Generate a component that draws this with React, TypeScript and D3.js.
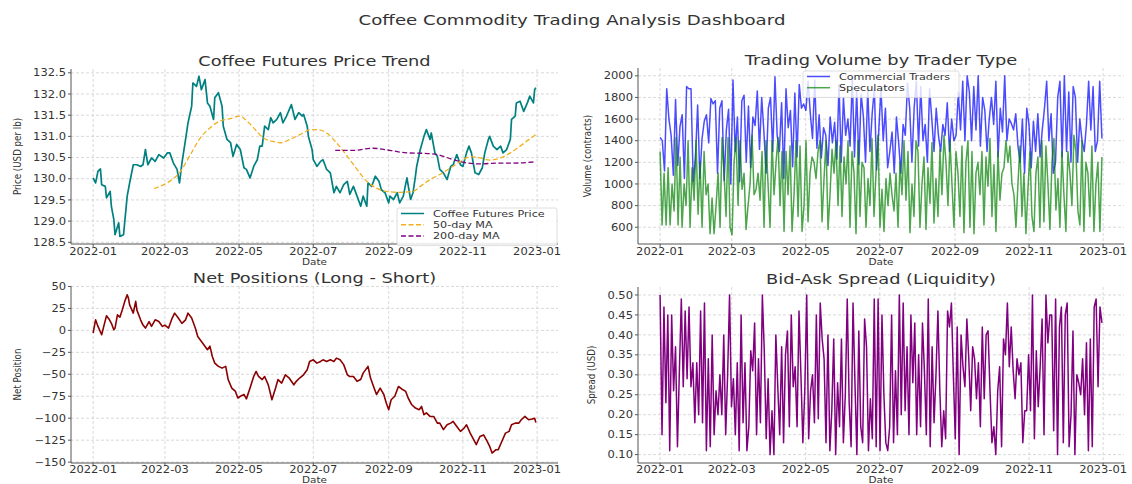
import React from "react";
import * as d3 from "d3";

const W = 1132;
const H = 484;

// day offsets from 2022-01-01 and values
const priceData: [number, number][] = [
  [0, 130.02], [2, 129.9], [4, 130.18], [6, 130.23], [7, 129.86], [10, 129.82], [11, 129.55], [14, 129.7], [15, 129.35],
  [17, 129.04], [18, 128.68], [21, 128.96], [22, 128.64], [25, 128.68], [28, 129.59], [30, 129.9], [33, 130.33], [36, 130.33],
  [39, 130.29], [41, 130.33], [43, 130.69], [45, 130.33], [48, 130.49], [51, 130.41], [54, 130.57], [58, 130.49], [61, 130.61],
  [63, 130.61], [66, 130.37], [69, 130.22], [71, 129.9], [73, 130.37], [76, 130.93], [78, 131.32], [81, 131.71], [82, 132.26],
  [85, 132.18], [87, 132.42], [89, 132.1], [92, 132.34], [94, 131.79], [96, 131.71], [99, 131.4], [100, 131.91], [103, 132.03],
  [106, 131.71], [107, 131.24], [110, 130.93], [113, 130.85], [115, 130.53], [118, 130.81], [121, 130.69], [124, 130.26],
  [126, 130.22], [129, 130.02], [132, 130.29], [135, 130.45], [137, 130.77], [139, 130.77], [141, 131.24], [144, 131.16],
  [146, 131.44], [148, 131.32], [151, 131.4], [154, 131.56], [156, 131.32], [159, 131.48], [163, 131.75], [166, 131.4],
  [169, 131.56], [172, 131.48], [173, 131.52], [176, 131.24], [177, 131.0], [180, 130.69], [181, 130.45], [184, 130.29],
  [187, 130.41], [189, 130.45], [192, 130.22], [195, 130.14], [198, 129.67], [200, 129.82], [203, 129.67], [206, 129.86],
  [209, 129.94], [211, 129.63], [214, 129.82], [217, 129.59], [220, 129.35], [222, 129.59], [225, 129.35], [226, 129.9],
  [229, 129.82], [232, 130.06], [235, 129.94], [237, 129.74], [240, 129.67], [243, 129.43], [244, 129.59], [247, 129.51],
  [250, 129.67], [252, 129.43], [255, 129.59], [258, 130.02], [261, 129.51], [263, 129.67], [265, 130.06], [266, 130.29],
  [269, 130.69], [272, 131.0], [274, 131.16], [277, 130.93], [278, 131.08], [281, 130.61], [283, 130.53], [285, 130.22],
  [288, 130.14], [291, 129.98], [294, 130.29], [296, 130.33], [299, 130.57], [302, 130.33], [304, 130.29], [307, 130.61],
  [309, 130.77], [311, 130.61], [314, 130.14], [317, 130.1], [320, 130.26], [322, 130.61], [325, 130.93], [326, 131.0],
  [329, 130.77], [332, 130.69], [335, 130.77], [337, 130.61], [340, 130.69], [343, 130.93], [344, 131.4], [347, 131.48],
  [348, 131.79], [351, 131.83], [354, 131.59], [357, 131.79], [359, 131.95], [362, 131.79], [363, 132.1], [364, 132.15],
];

const ma50Data: [number, number][] = [
  [50, 129.77], [58, 129.86], [65, 129.98], [72, 130.18], [80, 130.57], [88, 130.96], [96, 131.2], [104, 131.36],
  [113, 131.42], [121, 131.48], [125, 131.4], [132, 131.2], [140, 130.96], [148, 130.88], [154, 130.85], [162, 130.93],
  [170, 131.04], [179, 131.16], [184, 131.16], [192, 131.08], [200, 130.85], [209, 130.53], [217, 130.22], [225, 129.94],
  [233, 129.78], [241, 129.7], [252, 129.68], [263, 129.7], [269, 129.82], [277, 129.98], [285, 130.1], [294, 130.26],
  [302, 130.41], [310, 130.52], [318, 130.49], [326, 130.44], [335, 130.49], [343, 130.61], [351, 130.77], [359, 130.94],
  [364, 131.04],
];

const ma200Data: [number, number][] = [
  [199, 130.67], [214, 130.67], [230, 130.72], [244, 130.67], [258, 130.61], [272, 130.6], [283, 130.57], [294, 130.47],
  [304, 130.39], [318, 130.35], [332, 130.37], [346, 130.37], [364, 130.4],
];

const commercialVolume = [
  1430, 1400, 1120, 1880, 1600, 1450, 1080, 1780, 1170,
  1530, 1640, 1050, 1900, 1880, 1880, 1020, 1240, 1730, 1050, 1420,
  1580, 1640, 1380, 1790, 1740, 1770, 1100, 1700, 1770, 1030, 1500,
  1690, 1000, 1960, 1300, 1620, 1020, 1770, 1820, 1200, 1720, 1150,
  1620, 1540, 1860, 1320, 1800, 1480, 1100, 1700, 1800, 1300,
  1990, 1450, 1300, 1750, 1050, 1880, 1520, 1680, 1160,
  1840, 1250, 1920, 1700, 1740, 1680, 1950, 1650, 1420, 1960,
  1330, 1640, 1240, 1520, 1450, 1170, 1620, 1380, 1570,
  1230, 1920, 1200, 1800, 1450, 1600, 1350, 1980, 1250, 1860, 1180, 1830, 1630, 1200,
  1880, 1300, 1650, 1880, 1130, 1500, 1880, 1400, 1700, 1150, 1300, 1480,
  1100, 1620, 1380, 1100, 1550, 1450, 1930, 1700, 1200, 1700, 1950, 1350, 1900, 1400,
  1550, 1200, 1880, 1600, 1300, 1700, 1450, 1300, 1550, 1450, 1750, 1300, 1600, 1400,
  1450, 1850, 1500, 1950, 1400, 2000, 1850, 1400, 1900, 1500, 2000, 1350, 1800, 1680,
  1300, 1600, 1800, 1550, 1950, 1250, 1700, 1480,
  2000, 1400, 1600, 1560, 1500, 1650, 1350, 1200, 1600, 1100, 1700, 1550, 1150, 1580,
  1300, 1650, 1250, 1500, 1700, 1950, 1400,
  1650, 1100, 1200, 1800, 1950, 1250, 2000, 1300, 1850, 1200, 1900, 1800, 1200, 1600,
  1400, 1300, 1550, 1950, 1500, 1900, 1300, 1400, 1950, 1420,
];

const speculatorVolume = [
  1300, 620, 1100, 620, 1150, 620, 1000, 750, 1430, 620,
  1250, 600, 1000, 800, 1400, 600, 1150, 850, 1400, 720,
  1200, 600, 1300, 900, 1000, 540, 870, 540, 800, 1100,
  600, 1430, 1100, 700, 1430, 600, 530, 1200, 1430, 800,
  1400, 950, 1100, 580, 800, 1000, 1450, 900, 950, 1100,
  850, 1300, 600, 1400, 1000, 600, 1400, 900, 1200, 1430,
  800, 1300, 560, 1300, 900, 1350, 560, 900, 1400, 700,
  1350, 560, 800, 1400, 650, 1100, 1250, 1200, 1050, 1300,
  1400, 650, 1050, 1400, 580, 900, 1320, 1100, 1400, 800,
  1350, 700, 1250, 1000, 1400, 600, 1300, 1100, 540, 1400,
  700, 1200,
  1150, 600, 1050, 800, 1420, 700, 1100, 1450, 600, 950,
  560, 1050, 800, 1100, 900, 750, 1100, 600, 1200, 900,
  1400, 850, 1300, 550, 1000, 700, 1400, 1300, 600, 1000,
  1250, 580, 1150, 820, 1380, 640, 1050, 700, 1320, 900,
  1450, 1200, 800, 1400, 1000, 600, 1300, 1100, 700, 1350,
  550, 1200, 1400, 600, 1300, 540, 1100, 1200, 900, 1300,
  620, 1250, 980, 1420, 700, 1180, 560, 1300, 850, 1100,
  1150, 1400, 1200, 1350, 1000, 900, 600, 1000, 1350, 700,
  1100, 540, 950, 1300, 700, 560, 1100, 1250, 600, 1400,
  650, 1350, 1000, 580, 1200, 1420, 760, 1050, 600, 1300,
  900, 560, 1300, 1100, 800, 1450, 1300, 750, 620, 1400,
  560, 1200, 1100, 700, 1350, 560, 1000, 1200, 560, 1250,
];

const netPositionData: [number, number][] = [
  [0, -3], [2, 12], [4, 4.5], [7, -5], [9, 6], [11, 16.6], [13, 13], [15, 8], [17, 0.7], [18, 2.6], [20, 17.7], [22, 15],
  [24, 23.4], [26, 33], [28, 40.5], [29, 36.7], [30, 29], [33, 19.6], [35, 33], [36, 23], [39, 12], [41, 6], [43, 2.6],
  [46, 10], [48, 4.5], [51, 12], [54, 10], [57, 4.5], [59, 6], [62, 2.6], [65, 14], [67, 19.6], [70, 14], [73, 8], [76, 12],
  [78, 19.6], [81, 14], [84, 2.6], [86, -7], [88, -10.7], [91, -16.4], [94, -22], [96, -18], [98, -29.7], [100, -37.3],
  [103, -41], [106, -43], [109, -41], [111, -56], [114, -65.7], [117, -69.5], [119, -77], [121, -75], [124, -73], [126, -78],
  [129, -65.7], [132, -52.5], [134, -46.8], [136, -52.5], [139, -56], [141, -52.5], [144, -62], [147, -79], [150, -65.7],
  [152, -56], [155, -60], [158, -50.6], [161, -54], [165, -62], [167, -58], [170, -54], [173, -50.6], [176, -44.9],
  [178, -35.4], [181, -33.5], [184, -37.3], [187, -35.4], [189, -33.5], [192, -35.4], [195, -33.5], [198, -35.4],
  [200, -31.6], [203, -33.5], [206, -39], [209, -50.6], [211, -52.5], [214, -52.5], [217, -58], [220, -56], [222, -48.7],
  [226, -41], [228, -54], [231, -65.7], [233, -73], [236, -65.7], [239, -73], [241, -82.8], [243, -90.4], [245, -79],
  [248, -75], [251, -63.9], [254, -67], [257, -69.5], [259, -77], [262, -84.7], [265, -88.5], [268, -90.4], [270, -86.6],
  [272, -96], [274, -94], [277, -98], [280, -98], [283, -105.6], [285, -105.6], [288, -113], [291, -107.5], [294, -105.6],
  [296, -103.7], [299, -109.4], [302, -115], [305, -111.3], [307, -107.5], [310, -117], [313, -124.6], [315, -130],
  [318, -120.8], [321, -119], [324, -126.5], [326, -132], [328, -139.7], [331, -136], [333, -136], [336, -126.5],
  [339, -117], [342, -115], [344, -107.5], [347, -105.6], [350, -105.6], [352, -101.8], [355, -98], [358, -101.8],
  [361, -101], [363, -100], [364, -104.8],
];

const spreadValues = [
  0.5, 0.15, 0.47, 0.23, 0.45, 0.11, 0.45, 0.26, 0.37, 0.12,
  0.31, 0.49, 0.27, 0.46, 0.29, 0.47, 0.27, 0.33, 0.18, 0.33,
  0.2, 0.46, 0.18, 0.48, 0.11, 0.34, 0.12, 0.4, 0.15, 0.26,
  0.2, 0.3, 0.2, 0.4, 0.15, 0.3, 0.5, 0.22, 0.29, 0.15,
  0.33, 0.11, 0.45, 0.18, 0.33, 0.11, 0.17, 0.36, 0.31, 0.43,
  0.15, 0.34, 0.18, 0.5, 0.36, 0.14, 0.29, 0.1, 0.21, 0.1,
  0.4, 0.27, 0.15, 0.37, 0.13, 0.35, 0.41, 0.17, 0.45, 0.27,
  0.32, 0.17, 0.46, 0.3, 0.13, 0.26, 0.5, 0.14, 0.26, 0.3,
  0.18, 0.45, 0.19, 0.48, 0.39, 0.34, 0.13, 0.4, 0.11, 0.21,
  0.39, 0.1, 0.28, 0.17, 0.39, 0.13, 0.25, 0.49, 0.23, 0.12,
  0.48, 0.28, 0.1, 0.41, 0.17,
  0.13, 0.44, 0.37, 0.11, 0.24, 0.14, 0.49, 0.12, 0.49, 0.11,
  0.45, 0.25, 0.13, 0.11, 0.17, 0.45, 0.13, 0.31, 0.15, 0.5,
  0.2, 0.48, 0.21, 0.37, 0.15, 0.45, 0.28, 0.43, 0.15, 0.35,
  0.17, 0.43, 0.31, 0.15, 0.49, 0.12, 0.37, 0.18, 0.3, 0.46,
  0.26, 0.12, 0.21, 0.14, 0.46, 0.42, 0.48, 0.3, 0.14, 0.42,
  0.1, 0.4, 0.32, 0.27, 0.44, 0.34, 0.21, 0.37, 0.34, 0.24,
  0.33, 0.17, 0.42, 0.24, 0.4, 0.41, 0.26, 0.13, 0.17, 0.1,
  0.26, 0.32, 0.12, 0.39, 0.35, 0.48, 0.32, 0.42, 0.31, 0.24,
  0.34, 0.3, 0.33, 0.13, 0.21, 0.21, 0.35, 0.21, 0.5, 0.14,
  0.36, 0.22, 0.32, 0.44, 0.15, 0.5, 0.38, 0.45, 0.45, 0.16,
  0.49, 0.1, 0.42, 0.47, 0.13, 0.45, 0.48, 0.12, 0.2, 0.41,
  0.1, 0.3, 0.28, 0.25, 0.34, 0.2, 0.38, 0.11, 0.39, 0.12,
  0.47, 0.49, 0.27, 0.47, 0.43,
];

const priceTicks = [128.5, 129, 129.5, 130, 130.5, 131, 131.5, 132, 132.5];
const volumeTicks = [600, 800, 1000, 1200, 1400, 1600, 1800, 2000];
const netTicks = [-150, -125, -100, -75, -50, -25, 0, 25, 50];
const spreadTicks = [0.1, 0.15, 0.2, 0.25, 0.3, 0.35, 0.4, 0.45, 0.5];

const START = Date.UTC(2022, 0, 1);
const DAY = 86400000;
const dateTicks = d3.utcMonth.every(2)!.range(new Date(START), new Date(Date.UTC(2023, 0, 2)));
const fmtDate = d3.utcFormat("%Y-%m");

// even spacing over the year for the daily-noise series
const spread = (vals: number[]): [number, number][] => vals.map((v, i) => [(i * 364) / (vals.length - 1), v]);

type Box = { l: number; r: number; t: number; b: number };

const T = ({ x, y, size, sx = 1.15, anchor = "middle", rot = 0, dy, fill = "#333", children }: any) => (
  <text
    transform={`translate(${x},${y}) scale(${sx},1)` + (rot ? ` rotate(${rot})` : "")}
    fontSize={size}
    textAnchor={anchor}
    dy={dy}
    fill={fill}
  >
    {children}
  </text>
);

function Axes({ box, x, y, yTicks, yFmt, title, ylabel, ylabelX, tickY, dateY }: any) {
  const midX = (box.l + box.r) / 2;
  const midY = (box.t + box.b) / 2;
  return (
    <g>
      {yTicks.map((t: number) => (
        <line key={"gy" + t} x1={box.l} x2={box.r} y1={y(t)} y2={y(t)} stroke="#cfcfcf" strokeWidth={0.8} strokeDasharray="3,2" />
      ))}
      {dateTicks.map((d) => {
        const px = x((+d - START) / DAY);
        return <line key={"gx" + +d} x1={px} x2={px} y1={box.t} y2={box.b} stroke="#cfcfcf" strokeWidth={0.8} strokeDasharray="3,2" />;
      })}
      <line x1={box.l} x2={box.l} y1={box.t} y2={box.b} stroke="#555" strokeWidth={1} />
      <line x1={box.l} x2={box.r} y1={box.b} y2={box.b} stroke="#555" strokeWidth={1} />
      {yTicks.map((t: number) => (
        <g key={"ty" + t}>
          <line x1={box.l - 3} x2={box.l} y1={y(t)} y2={y(t)} stroke="#555" />
          <T x={box.l - 5} y={y(t)} size={10} anchor="end" dy="0.36em">{yFmt(t)}</T>
        </g>
      ))}
      {dateTicks.map((d) => {
        const px = x((+d - START) / DAY);
        return (
          <g key={"tx" + +d}>
            <line x1={px} x2={px} y1={box.b} y2={box.b + 3} stroke="#555" />
            <T x={px} y={tickY} size={10}>{fmtDate(d)}</T>
          </g>
        );
      })}
      <T x={midX} y={dateY} size={8.5} sx={1.23}>Date</T>
      <T x={midX} y={box.t - 3} size={14} sx={1.27}>{title}</T>
      <T x={ylabelX} y={midY} size={8.7} sx={1.2} rot={-90} dy="0.35em">{ylabel}</T>
    </g>
  );
}

function Legend({ x, y, w, items }: any) {
  const rowH = 11.2;
  return (
    <g>
      <rect x={x} y={y} width={w} height={items.length * rowH + 4} rx={2} fill="#fff" fillOpacity={0.8} stroke="#d5d5d5" strokeWidth={0.8} />
      {items.map((it: any, i: number) => {
        const cy = y + 5 + rowH * i + 0.5;
        return (
          <g key={it.label}>
            <line x1={x + 4} x2={x + 27} y1={cy} y2={cy} stroke={it.color} strokeWidth={1.5} strokeOpacity={it.opacity ?? 1} strokeDasharray={it.dash} />
            <T x={x + 36} y={cy} size={9.3} sx={1.2} anchor="start" dy="0.36em">{it.label}</T>
          </g>
        );
      })}
    </g>
  );
}

export default function App() {
  const TL: Box = { l: 71, r: 558, t: 69, b: 244 };
  const TR: Box = { l: 638, r: 1124, t: 68, b: 244 };
  const BL: Box = { l: 71, r: 558, t: 286, b: 463 };
  const BR: Box = { l: 638, r: 1124, t: 287, b: 463 };
  const xDom = [-18.2, 382.2];
  const xL = d3.scaleLinear().domain(xDom).range([TL.l, TL.r]);
  const xR = d3.scaleLinear().domain(xDom).range([TR.l, TR.r]);

  const yPrice = d3.scaleLinear().domain([128.46, 132.59]).range([TL.b, TL.t]);
  const yVol = d3.scaleLinear().domain([445, 2072]).range([TR.b, TR.t]);
  const yNet = d3.scaleLinear().domain([-151, 50.5]).range([BL.b, BL.t]);
  const ySpread = d3.scaleLinear().domain([0.079, 0.52]).range([BR.b, BR.t]);

  const lineOf = (x: any, y: any, curve: any = d3.curveLinear) =>
    d3.line<[number, number]>().x((d) => x(d[0])).y((d) => y(d[1])).curve(curve);

  const priceLine = lineOf(xL, yPrice);
  const maLine = lineOf(xL, yPrice, d3.curveMonotoneX);
  const volLine = lineOf(xR, yVol);
  const netLine = lineOf(xL, yNet);
  const spreadLine = lineOf(xR, ySpread);

  return (
    <svg width={W} height={H} style={{ position: "absolute", left: 0, top: 0, background: "#fff" }} fontFamily="DejaVu Sans, sans-serif">
      <T x={572} y={25} size={14} sx={1.3}>Coffee Commodity Trading Analysis Dashboard</T>

      <Axes box={TL} x={xL} y={yPrice} yTicks={priceTicks} yFmt={d3.format(".1f")} title="Coffee Futures Price Trend" ylabel="Price (USD per lb)" ylabelX={17} tickY={255} dateY={265} />
      <path d={priceLine(priceData) || ""} fill="none" stroke="#008080" strokeWidth={1.7} strokeLinejoin="round" />
      <path d={maLine(ma50Data) || ""} fill="none" stroke="#f2b01e" strokeWidth={1.3} strokeDasharray="5,2.5" />
      <path d={maLine(ma200Data) || ""} fill="none" stroke="#800080" strokeWidth={1.3} strokeDasharray="5,2.5" />
      <Legend
        x={397}
        y={208}
        w={160}
        items={[
          { label: "Coffee Futures Price", color: "#008080" },
          { label: "50-day MA", color: "#f2b01e", dash: "5,2.5" },
          { label: "200-day MA", color: "#800080", dash: "5,2.5" },
        ]}
      />

      <Axes box={TR} x={xR} y={yVol} yTicks={volumeTicks} yFmt={d3.format("d")} title="Trading Volume by Trader Type" ylabel="Volume (contracts)" ylabelX={587} tickY={255} dateY={265} />
      <path d={volLine(spread(commercialVolume)) || ""} fill="none" stroke="blue" strokeOpacity={0.7} strokeWidth={1.5} strokeLinejoin="round" />
      <path d={volLine(spread(speculatorVolume)) || ""} fill="none" stroke="green" strokeOpacity={0.7} strokeWidth={1.5} strokeLinejoin="round" />
      <Legend
        x={803}
        y={71}
        w={156}
        items={[
          { label: "Commercial Traders", color: "blue", opacity: 0.7 },
          { label: "Speculators", color: "green", opacity: 0.7 },
        ]}
      />

      <Axes box={BL} x={xL} y={yNet} yTicks={netTicks} yFmt={(v: number) => d3.format("d")(v).replace("-", "\u2212")} title="Net Positions (Long - Short)" ylabel="Net Position" ylabelX={17} tickY={472.5} dateY={482.5} />
      <path d={netLine(netPositionData) || ""} fill="none" stroke="#8b0000" strokeWidth={1.6} strokeLinejoin="round" />

      <Axes box={BR} x={xR} y={ySpread} yTicks={spreadTicks} yFmt={d3.format(".2f")} title="Bid-Ask Spread (Liquidity)" ylabel="Spread (USD)" ylabelX={591} tickY={472.5} dateY={482.5} />
      <path d={spreadLine(spread(spreadValues)) || ""} fill="none" stroke="#800080" strokeWidth={1.5} strokeLinejoin="round" />
    </svg>
  );
}
